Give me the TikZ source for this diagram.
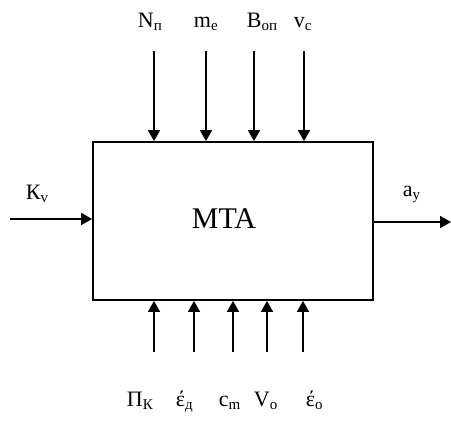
\documentclass[tikz,border=0pt]{standalone}
\usepackage{fontspec}
\setmainfont{Liberation Serif}
\usetikzlibrary{arrows.meta}
\newcommand{\lowidx}[1]{\raisebox{-0.35ex}{\fontsize{15}{15}\selectfont #1}}

\begin{document}
\begin{tikzpicture}[x=1pt, y=-1pt, >={Triangle[length=11pt,width=12pt]}, line width=1.8pt,
    lbl/.style={font=\fontsize{22}{22}\selectfont, inner sep=0pt, anchor=base west}]
    \useasboundingbox (0,0) rectangle (451,421);

    % Block
    \node[draw, minimum width=280pt, minimum height=158pt, inner sep=0pt] (mta) at (233,221) {};
    \node[font=\fontsize{30}{30}\selectfont, inner sep=0pt] (mtalbl) at (224,219) {MTA};

    % Inputs from above
    \foreach \x/\n in {154/1, 206/2, 254/3, 304/4} {
        \coordinate (top\n) at (\x,51);
        \draw[->] (top\n) -- (top\n |- mta.north);
    }
    \node[lbl] (lnp) at (137,27) {N\lowidx{п}};
    \node[lbl] (lme) at (193,27) {m\lowidx{е}};
    \node[lbl] (lbop) at (246,27) {В\lowidx{оп}};
    \node[lbl] (lvc) at (293,27) {v\lowidx{с}};

    % Inputs from below
    \foreach \x/\n in {154/1, 194/2, 233/3, 267/4, 303/5} {
        \coordinate (bot\n) at (\x,352);
        \draw[->] (bot\n) -- (bot\n |- mta.south);
    }
    \node[lbl] (lpk) at (126,406) {П\lowidx{К}};
    \node[lbl] (led) at (175,406) {έ\lowidx{д}};
    \node[lbl] (lcm) at (218,406) {с\lowidx{m}};
    \node[lbl] (lvo) at (253,406) {V\lowidx{о}};
    \node[lbl] (leo) at (305,406) {έ\lowidx{о}};

    % Side input and output
    \coordinate (kin) at (10,219);
    \draw[->] (kin) -- (kin -| mta.west);
    \node[lbl] (lkv) at (25,199) {К\lowidx{v}};
    \coordinate (aout) at (451,222);
    \draw[->] (mta.east |- aout) -- (aout);
    \node[lbl] (lay) at (402,196) {a\lowidx{у}};
\end{tikzpicture}
\end{document}
